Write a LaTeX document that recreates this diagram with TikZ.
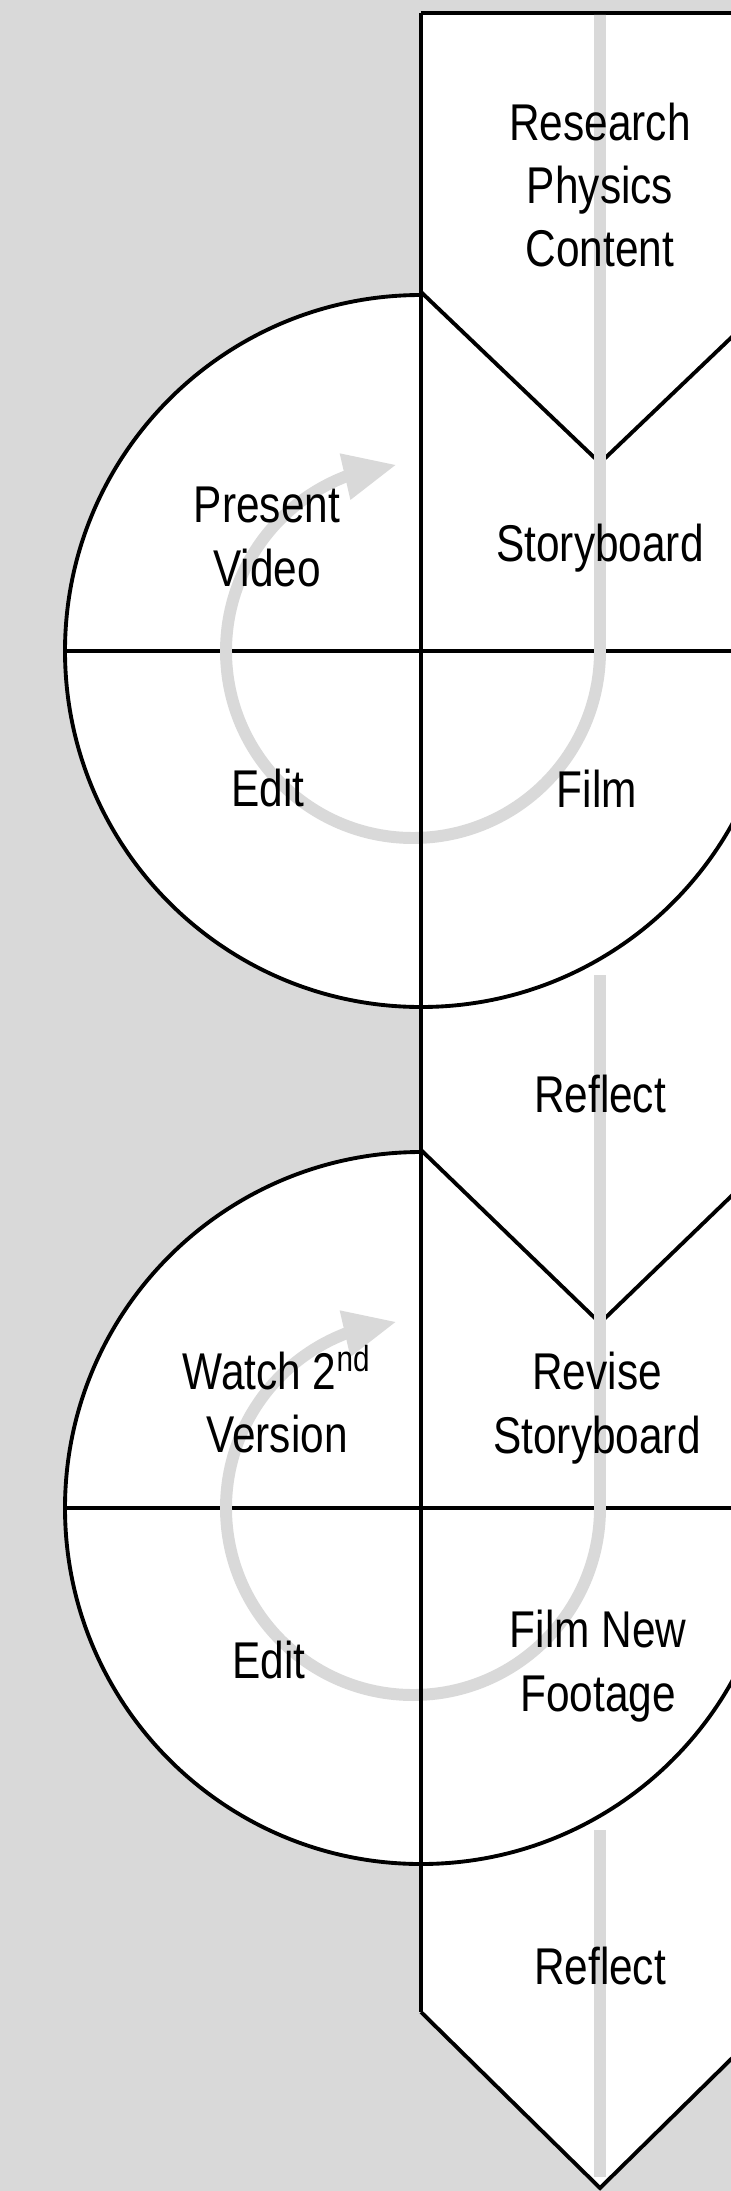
\documentclass[tikz,border=0pt]{standalone}
\usepackage{fontspec}
\setmainfont{Liberation Sans}[FakeStretch=0.82]
\usetikzlibrary{arrows.meta,bending}
\definecolor{flowgray}{RGB}{217,217,217}

\begin{document}
\begin{tikzpicture}[
    x=0.01cm, y=-0.01cm,
    rim/.style={draw=black, line width=1.1pt},
    flow/.style={draw=flowgray, line width=3.4pt},
    loop/.style={flow, -{Triangle[length=5.3mm, width=4.4mm, flex]}},
    lbl/.style={font=\fontsize{14.7pt}{18pt}\selectfont, align=center, inner sep=0pt}
]
\clip (0,0) rectangle (731,2191);
\fill[flowgray] (0,0) rectangle (731,2191);

% chevron band
\fill[white] (421,13) -- (779,13) -- (779,2012) -- (600,2188) -- (421,2012) -- cycle;
\draw[rim] (421,13) -- (779,13);
\draw[rim] (421,292) -- (600,463) -- (779,292);
\draw[rim] (421,1150) -- (600,1323) -- (779,1150);
\draw[rim] (421,2012) -- (600,2188) -- (779,2012);

% cycle wheels
\coordinate (hub1) at (421,651);
\coordinate (hub2) at (421,1508);
\foreach \cy in {651,1508} {
  \filldraw[rim, fill=white] (421,\cy-356) arc[start angle=-90, end angle=-270, radius=356] -- cycle;
  \draw[rim] (777,\cy) arc[start angle=0, end angle=90, radius=356];
  \draw[rim] (65,\cy) -- (779,\cy);
}

% grey flow
\draw[loop] (600,15) -- (600,651) arc[start angle=0, end angle=265, radius=187];
\draw[loop] (600,975) -- (600,1508) arc[start angle=0, end angle=265, radius=187];
\draw[flow] (600,1830) -- (600,2177);

\draw[rim] (421,13) -- (421,2012);

\node[lbl] (research) at (600,185) {Research\\Physics\\Content};
\node[lbl] (story) at (600,548) {Storyboard};
\node[lbl] (present) at (267,537) {Present\\Video};
\node[lbl] (edit1) at (268,788) {Edit};
\node[lbl] (film) at (597,789) {Film};
\node[lbl] (reflect1) at (600,1094) {Reflect};
\node[lbl] (watch) at (277,1399) {Watch 2\textsuperscript{nd}\\Version};
\node[lbl] (revise) at (597,1408) {Revise\\Storyboard};
\node[lbl] (edit2) at (269,1660) {Edit};
\node[lbl] (filmnew) at (598,1666) {Film New\\Footage};
\node[lbl] (reflect2) at (600,1966) {Reflect};
\end{tikzpicture}
\end{document}
